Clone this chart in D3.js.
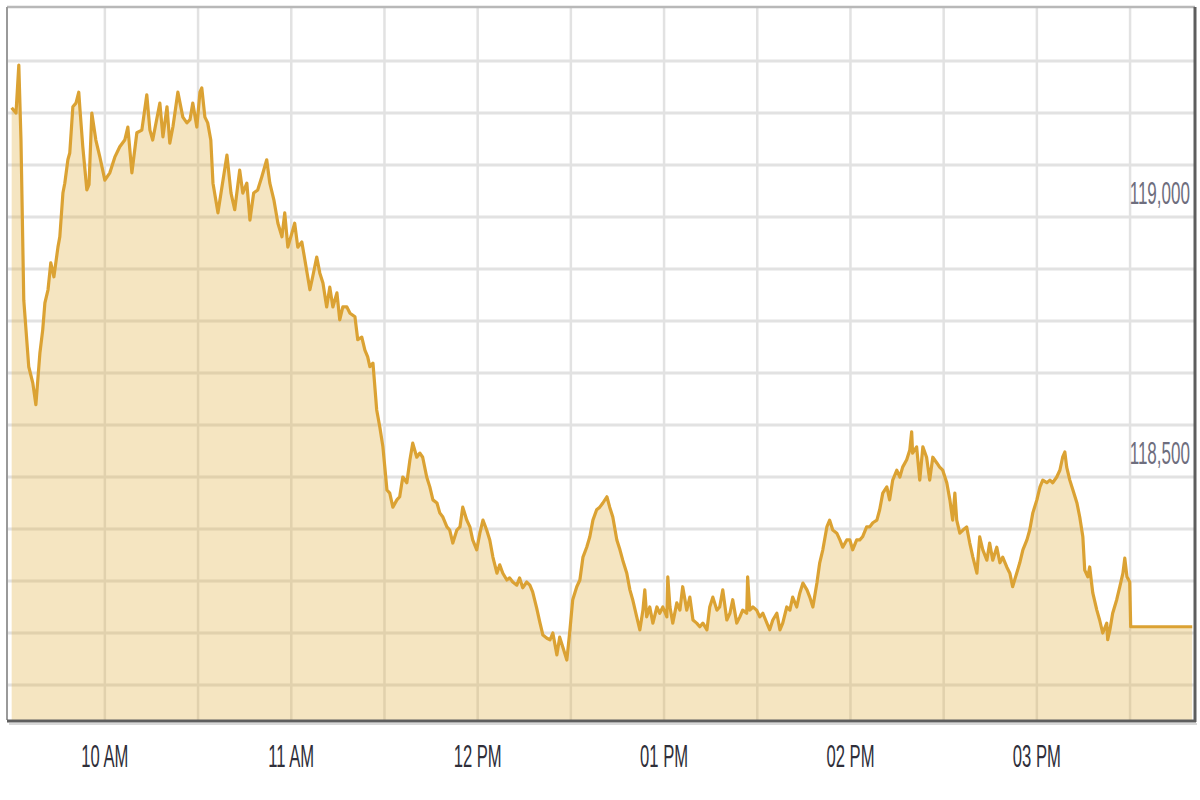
<!DOCTYPE html>
<html>
<head>
<meta charset="utf-8">
<script src="https://cdn.jsdelivr.net/npm/d3@7"></script>
<style>
  html, body { margin: 0; padding: 0; background: #fff; }
  svg { display: block; }
</style>
</head>
<body>
<svg id="chart" width="1200" height="800"></svg>
<script>
// ---- data (minutes after 09:30 open, price) ----
const minutesAfterOpen = [0,1.4,2.3,3.0,3.9,5.5,6.8,7.8,9.1,10.0,10.7,11.7,12.6,13.6,14.9,15.5,16.5,17.1,18.1,18.7,19.7,20.7,21.6,22.0,22.9,24.2,24.9,25.8,27.1,28.4,30.0,31.6,33.2,34.8,36.4,37.4,38.7,40.3,41.9,43.5,44.5,45.4,47.7,48.7,50.0,50.9,51.9,53.5,55.1,56.4,57.4,58.3,59.6,60.6,61.2,62.2,63.1,64.1,64.8,66.4,67.7,69.3,70.6,71.8,73.4,74.4,75.7,76.7,77.9,79.2,80.5,82.1,83.1,84.4,85.7,87.0,87.9,88.9,90.2,91.1,92.1,93.4,94.4,96.0,96.9,98.2,99.2,100.2,101.4,102.4,103.4,104.7,105.6,106.6,107.9,108.9,110.5,111.4,112.7,113.7,114.6,115.3,116.3,117.5,118.5,119.5,120.8,121.7,122.7,124.0,124.9,125.9,127.2,128.2,129.1,130.4,131.4,132.3,133.6,134.6,135.6,136.9,137.8,138.8,140.1,141.0,142.0,143.3,144.3,145.2,146.5,147.5,148.4,149.7,150.7,151.7,152.9,153.9,154.9,156.2,157.1,158.1,159.4,160.3,161.3,162.6,163.5,164.5,165.8,166.8,167.7,169.0,170.0,171.0,172.3,173.3,174.2,175.5,176.4,177.4,178.7,179.7,180.6,181.9,182.9,183.9,185.1,186.1,187.1,188.3,189.3,190.3,191.6,192.5,193.5,194.8,195.8,196.7,198.0,199.0,199.9,201.2,202.2,203.2,203.8,204.4,205.4,206.4,207.7,208.6,209.6,210.9,211.2,211.9,212.8,214.1,215.1,216.0,217.3,218.3,219.3,220.5,221.5,222.5,223.8,224.7,225.7,227.0,227.9,228.9,230.2,231.2,232.1,233.4,234.4,235.3,236.6,236.9,237.6,238.6,239.8,240.8,241.8,243.1,244.0,245.0,246.3,247.3,248.2,249.5,250.5,251.4,252.7,253.7,254.7,256.0,256.9,257.9,259.2,260.1,261.1,262.4,263.3,264.3,265.6,266.6,267.5,268.8,269.8,270.7,272.0,273.0,273.9,275.2,276.2,277.2,278.5,279.4,280.4,281.7,282.6,283.6,284.9,285.9,286.8,288.1,289.1,289.7,290.0,291.3,292.3,293.3,294.5,295.5,296.5,297.8,298.7,299.7,301.0,302.0,302.9,303.6,304.2,305.2,306.2,307.4,308.4,309.4,310.7,311.6,312.6,313.9,314.8,315.8,317.1,318.1,319.0,320.3,321.3,322.2,323.5,324.5,325.5,326.8,327.7,328.7,330.0,331.0,331.9,333.2,334.2,335.1,336.4,337.4,338.3,339.0,339.6,340.6,341.6,342.9,343.8,344.8,345.4,346.4,347.0,348.0,349.3,350.2,351.2,352.5,352.8,353.5,354.4,355.7,356.7,357.7,358.3,359.0,359.9,360.2,380.0];

const prices = [119210,119200,119292,119148,118840,118712,118681,118639,118739,118783,118835,118860,118912,118885,118942,118962,119046,119065,119110,119123,119212,119219,119240,119206,119135,119052,119062,119200,119148,119115,119071,119085,119115,119135,119148,119173,119085,119162,119167,119235,119167,119148,119219,119154,119212,119142,119173,119240,119192,119181,119187,119219,119173,119240,119248,119192,119181,119148,119065,119008,119058,119119,119046,119014,119090,119046,119065,118994,119046,119052,119077,119110,119065,119033,118988,118962,119008,118942,118969,118988,118942,118952,118917,118860,118885,118923,118892,118873,118827,118865,118827,118854,118802,118827,118827,118815,118808,118764,118769,118744,118731,118712,118719,118629,118596,118558,118475,118469,118442,118456,118462,118500,118489,118533,118565,118538,118546,118538,118500,118481,118456,118450,118431,118423,118404,118398,118373,118398,118404,118442,118417,118404,118379,118360,118392,118417,118398,118379,118346,118315,118331,118315,118302,118306,118298,118292,118306,118287,118298,118292,118279,118248,118221,118196,118190,118187,118200,118158,118192,118173,118148,118206,118264,118289,118302,118346,118365,118385,118417,118437,118442,118450,118462,118442,118423,118379,118360,118340,118315,118283,118264,118231,118206,118244,118283,118231,118250,118219,118250,118238,118250,118231,118308,118250,118219,118258,118244,118289,118244,118269,118225,118219,118212,118219,118206,118250,118269,118244,118250,118283,118225,118238,118264,118219,118231,118244,118238,118308,118244,118250,118244,118231,118238,118219,118206,118225,118238,118206,118219,118250,118244,118269,118250,118277,118296,118283,118269,118250,118296,118335,118360,118404,118417,118398,118392,118379,118365,118379,118379,118360,118379,118379,118385,118404,118404,118412,118417,118437,118469,118481,118456,118494,118513,118500,118519,118533,118552,118587,118546,118558,118494,118558,118538,118494,118538,118527,118519,118513,118489,118456,118417,118469,118417,118392,118398,118404,118373,118346,118315,118385,118360,118340,118373,118340,118365,118335,118346,118327,118315,118289,118315,118335,118360,118379,118398,118431,118456,118481,118494,118489,118494,118489,118500,118513,118538,118548,118519,118494,118475,118450,118423,118385,118321,118308,118327,118277,118244,118225,118200,118219,118187,118206,118238,118264,118289,118315,118344,118308,118298,118212,118212];

const yGridValues = [118100,118200,118300,118400,118500,118600,118700,118800,118900,119000,119100,119200,119300];
const yLabelValues = [119000, 118500];
const xLabelHours = [10, 11, 12, 13, 14, 15];

// ---- setup ----
const open = new Date(2020, 0, 2, 9, 30);
const t = m => new Date(open.getTime() + m * 60000);
const n = Math.min(minutesAfterOpen.length, prices.length);
const data = d3.range(n).map(i => ({ t: t(minutesAfterOpen[i]), v: prices[i] }));

const L = 7, R = 1195, T = 7, B = 720;
const x = d3.scaleTime().domain([t(-1.5), t(380.9)]).range([L, R]);
const y = d3.scaleLinear().domain([118032.7, 119403.8]).range([B, T]);

const svg = d3.select('#chart');
svg.append('rect').attr('width', 1200).attr('height', 800).attr('fill', '#fff');

// grid
const grid = svg.append('g');
const halfHours = d3.timeMinute.every(30).range(t(29), t(362));
grid.selectAll('line.v').data(halfHours).join('line')
  .attr('x1', d => x(d)).attr('x2', d => x(d))
  .attr('y1', T).attr('y2', B)
  .attr('stroke', '#e2e2e2').attr('stroke-width', 2.5);
grid.selectAll('line.h').data(yGridValues).join('line')
  .attr('x1', L).attr('x2', R)
  .attr('y1', d => y(d)).attr('y2', d => y(d))
  .attr('stroke', '#e2e2e2').attr('stroke-width', 3);

// area + line
const area = d3.area().x(d => x(d.t)).y0(B).y1(d => y(d.v));
const line = d3.line().x(d => x(d.t)).y(d => y(d.v));
svg.append('path').datum(data).attr('d', area)
  .attr('fill', 'rgba(222,170,50,0.30)');
svg.append('path').datum(data).attr('d', line)
  .attr('fill', 'none').attr('stroke', '#dba233').attr('stroke-width', 3.2)
  .attr('stroke-linejoin', 'round');

// frame
svg.append('line').attr('x1', L).attr('x2', R).attr('y1', T).attr('y2', T)
  .attr('stroke', '#b8b8b8').attr('stroke-width', 2.5);
svg.append('line').attr('x1', L).attr('x2', L).attr('y1', T).attr('y2', B)
  .attr('stroke', '#9a9a9a').attr('stroke-width', 2);
svg.append('line').attr('x1', L).attr('x2', R + 1).attr('y1', B + 1).attr('y2', B + 1)
  .attr('stroke', '#5e5e5e').attr('stroke-width', 3);
svg.append('line').attr('x1', L + 2).attr('x2', R + 2).attr('y1', B + 4).attr('y2', B + 4)
  .attr('stroke', '#d8d8d8').attr('stroke-width', 2);
svg.append('line').attr('x1', R).attr('x2', R).attr('y1', T).attr('y2', B + 2)
  .attr('stroke', '#5e5e5e').attr('stroke-width', 3);

// labels
const fmt = d3.timeFormat('%I %p');
const xl = svg.append('g');
xLabelHours.forEach(h => {
  const d = new Date(2020, 0, 2, h, 0);
  xl.append('text')
    .attr('transform', `translate(${x(d)},767) scale(0.52,1)`)
    .attr('text-anchor', 'middle')
    .attr('font-family', 'Liberation Sans, Arial, sans-serif')
    .attr('font-size', 32)
    .attr('fill', '#2f2f3a')
    .text(fmt(d));
});
const fmtY = d3.format(',');
yLabelValues.forEach(v => {
  svg.append('text')
    .attr('transform', `translate(1190,${y(v) - 13}) scale(0.55,1)`)
    .attr('text-anchor', 'end')
    .attr('font-family', 'Liberation Sans, Arial, sans-serif')
    .attr('font-size', 31)
    .attr('fill', '#6e6e7e')
    .text(fmtY(v));
});
</script>
</body>
</html>
